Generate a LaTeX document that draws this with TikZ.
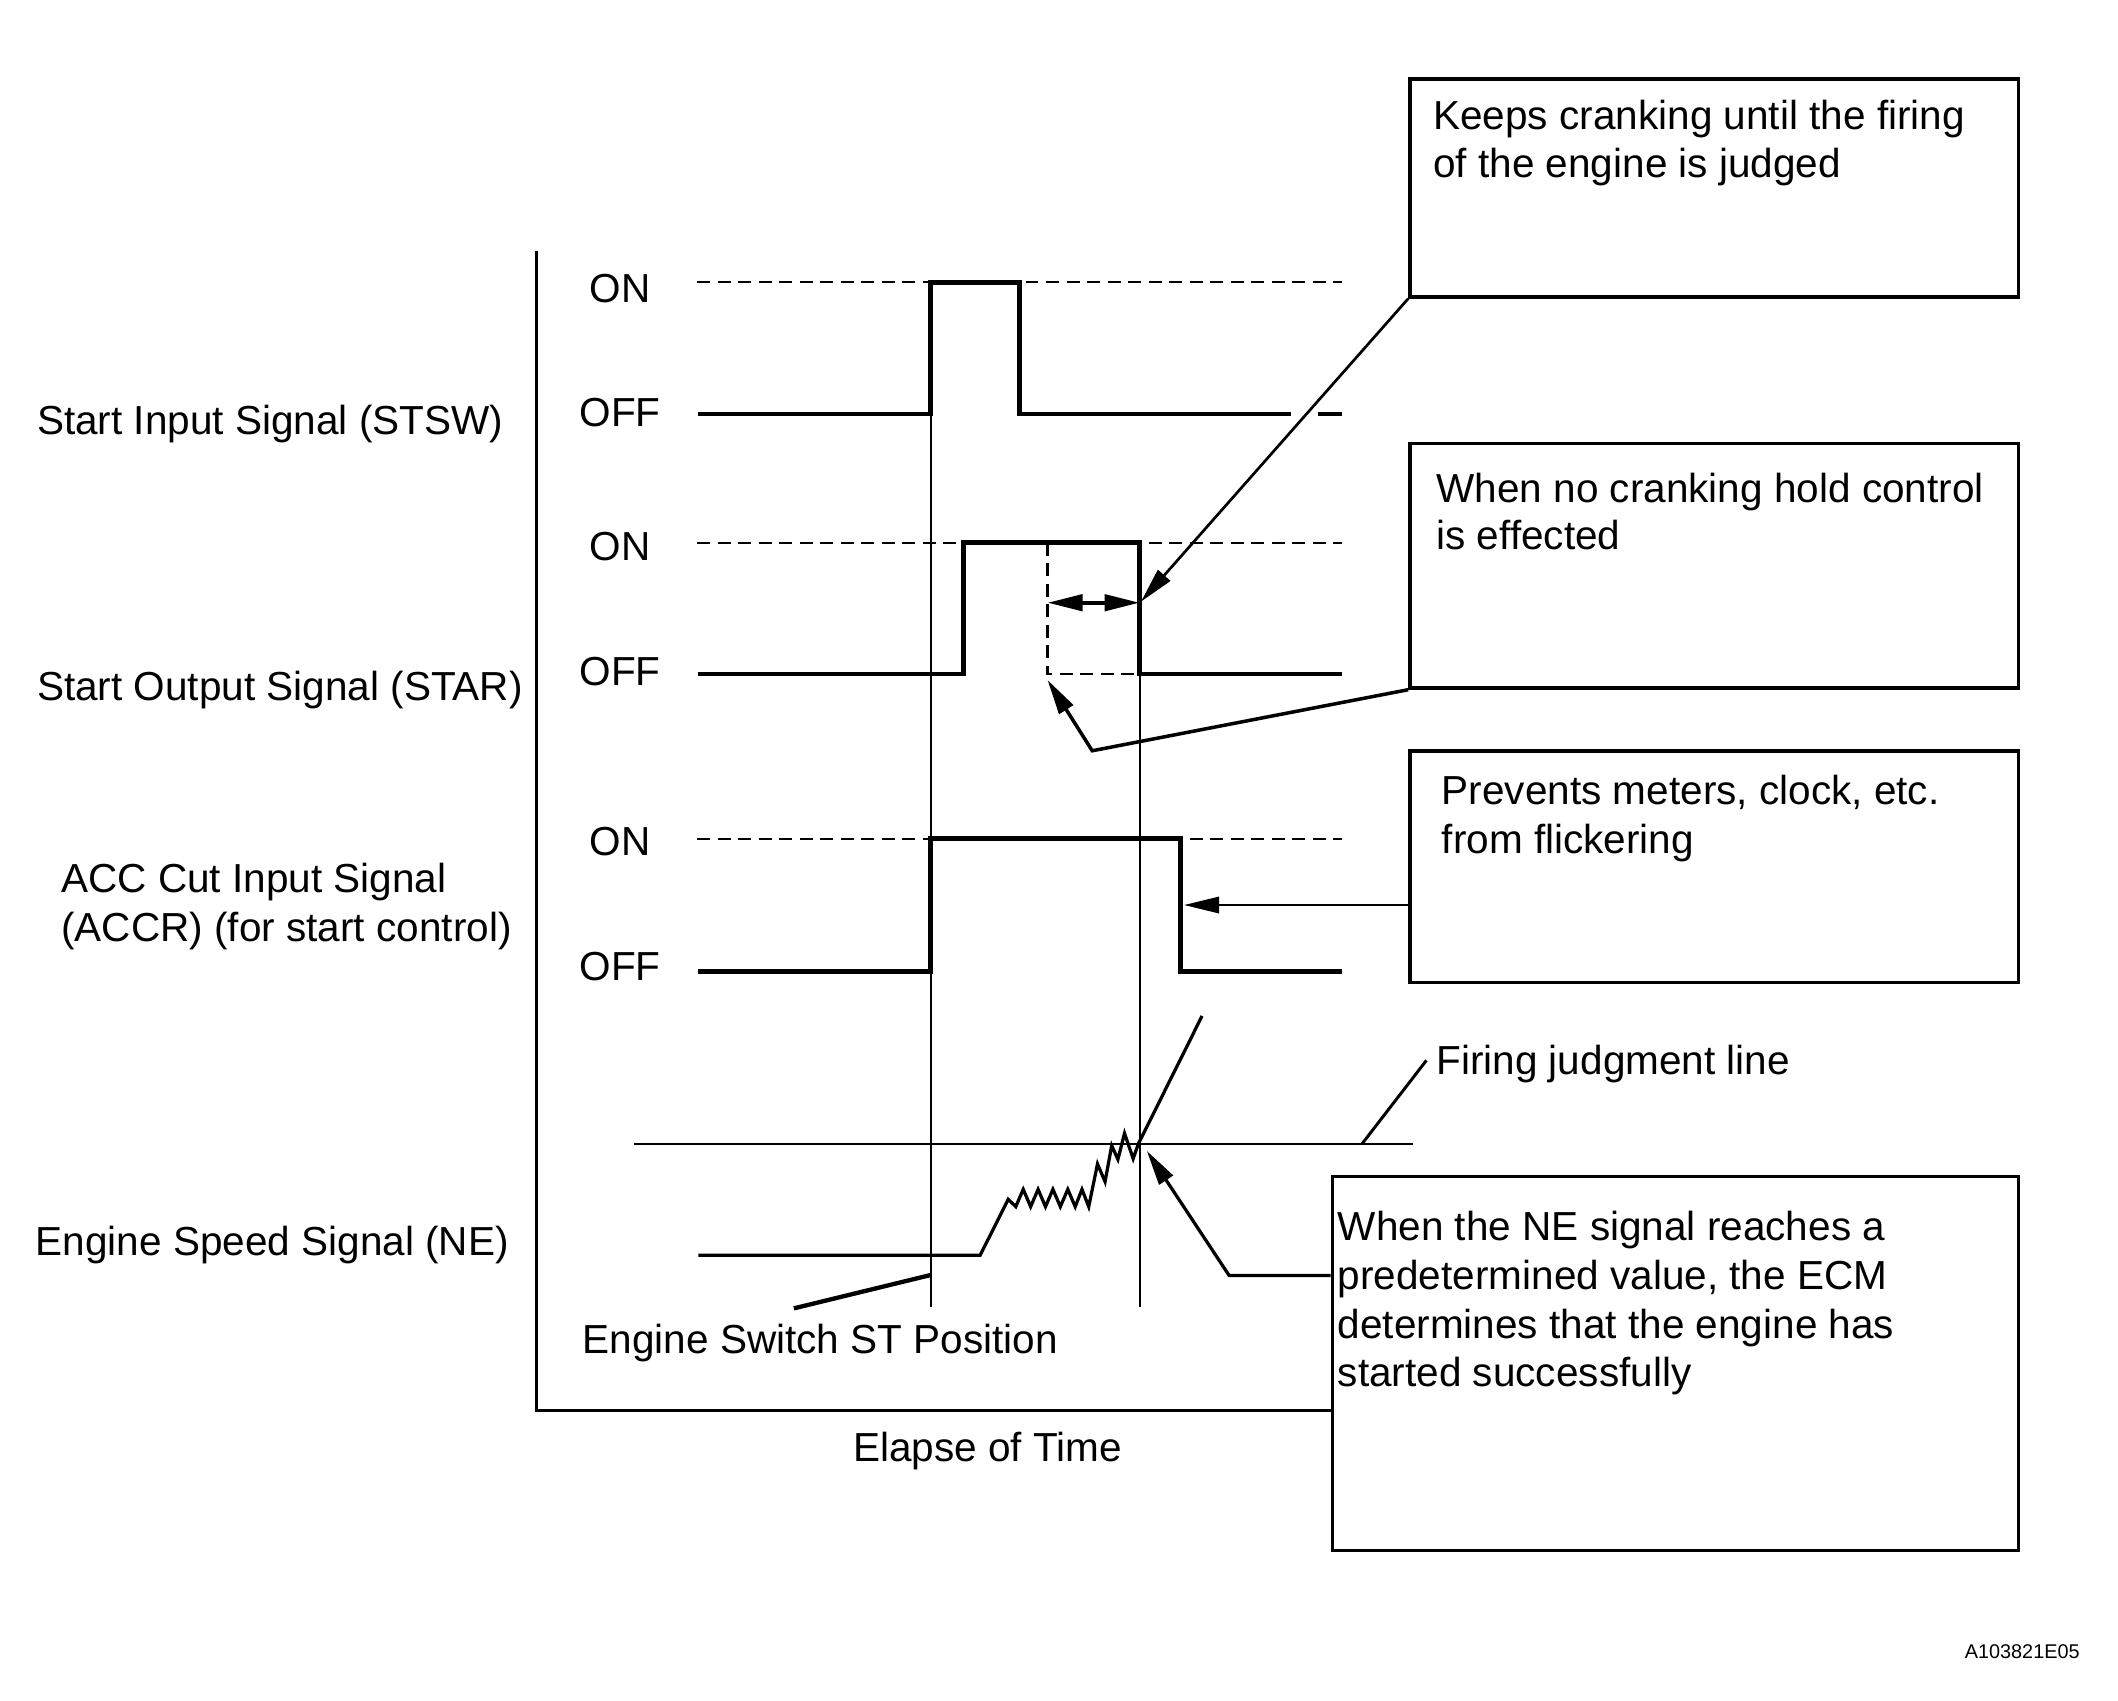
\documentclass[tikz,border=0pt]{standalone}
\usepackage{fontspec}
\setmainfont{Liberation Sans}
\usetikzlibrary{arrows.meta}
\begin{document}
\begin{tikzpicture}[x=0.5pt,y=-0.5pt,
  sig/.style={line width=1.8pt},
  thinln/.style={line width=0.75pt},
  dashln/.style={line width=0.8pt, dash pattern=on 4.8pt off 2.8pt},
  box/.style={draw, line width=1.3pt, rectangle, inner sep=0pt, anchor=north west, minimum width=225.25pt},
  lbl/.style={font=\fontsize{15pt}{18pt}\selectfont, inner sep=0pt, anchor=base west},
  onoff/.style={font=\fontsize{15pt}{18pt}\selectfont, inner sep=0pt, anchor=base},
  arr/.style={line width=1pt, -{Triangle[length=13pt,width=6pt]}},
]
\useasboundingbox (0,0) rectangle (1568,1259);

% axes
\coordinate (axt) at (397,186);
\coordinate (axc) at (397,1044);

% boxes
\node[box, minimum height=80.6pt] (b1) at (1042.5,57.3) {};
\node[box, minimum height=90.4pt] (b2) at (1042.5,327.2) {};
\node[box, minimum height=85.6pt] (b3) at (1042.5,554.8) {};
\node[box, minimum width=254pt, minimum height=138.5pt] (b4) at (985,869.6) {};

\draw[line width=1pt] (axt) -- (axc) -- (axc -| b4.west);

% dashed ON levels
\draw[dashln] (516,209) -- (993.6,209);
\draw[dashln] (516,401.7) -- (993.6,401.7);
\draw[dashln] (516,620.9) -- (993.6,620.9);
% dashed "no hold" outline
\draw[dashln] (775.5,401.7) -- (775.5,499) -- (843.7,499);

% thin vertical time lines
\draw[thinln] (689,306.5) -- (689,967.3);
\draw[thinln] (843.7,499) -- (843.7,967.3);

% STSW
\draw[sig] (517,306.5) -- (689,306.5) -- (689,209) -- (754.5,209) -- (754.5,306.5) -- (956,306.5);
\draw[sig] (976,306.5) -- (993.6,306.5);
% STAR
\draw[sig] (517,499) -- (713.3,499) -- (713.3,401.7) -- (843.7,401.7) -- (843.7,499) -- (993.6,499);
% ACCR
\draw[sig] (517,718.9) -- (689,718.9) -- (689,620.9) -- (874,620.9) -- (874,718.9) -- (993.6,718.9);

% double arrow
\coordinate (d1) at (775.5,446.2);
\coordinate (d2) at (843.7,446.2);
\draw[line width=1.5pt, {Triangle[length=13pt,width=6pt]}-{Triangle[length=13pt,width=6pt]}] (d1) -- (d2);

% firing judgment line
\coordinate (fl1) at (469,846.7);
\coordinate (fl2) at (1046,846.7);
\draw[line width=0.85pt] (fl1) -- (fl2);

% NE signal
\draw[line width=1.2pt, line join=miter] (517,929.3) -- (725.6,929.3) -- (746.4,887.9)
  -- (752,893.3) -- (757.5,880.5) -- (763,893.3) -- (768.5,880.5) -- (774,893.3)
  -- (779.5,880.5) -- (785,893.3) -- (790.5,880.5) -- (796,893.3) -- (801,880.5)
  -- (806,893.3) -- (812.5,861.7) -- (818.1,874.8) -- (823,848.1) -- (827.6,858.3)
  -- (832.5,839) -- (838.9,857.8) -- (842.7,846.9) -- (889.9,752.1);

% labels left
\node[lbl] (lstsw) at (27,321.7) {Start Input Signal (STSW)};
\node[lbl] (lstar) at (27,518.7) {Start Output Signal (STAR)};
\node[lbl] (lacc1) at (45,660.7) {ACC Cut Input Signal};
\node[lbl] (lacc2) at (45,696.7) {(ACCR) (for start control)};
\node[lbl] (lne) at (26,929.7) {Engine Speed Signal (NE)};

\node[onoff] (on1) at (459,223.7) {ON};
\node[onoff] (off1) at (459,315.7) {OFF};
\node[onoff] (on2) at (459,414.7) {ON};
\node[onoff] (off2) at (459,507.7) {OFF};
\node[onoff] (on3) at (459,633.7) {ON};
\node[onoff] (off3) at (459,725.7) {OFF};

% box texts
\node[lbl] (t1a) at (1060.7,95.7) {Keeps cranking until the firing};
\node[lbl] (t1b) at (1060.7,131.2) {of the engine is judged};
\node[lbl] (t2a) at (1063,371.7) {When no cranking hold control};
\node[lbl] (t2b) at (1063,406.7) {is effected};
\node[lbl] (t3a) at (1067,595.7) {Prevents meters, clock, etc.};
\node[lbl] (t3b) at (1067,631.7) {from flickering};
\node[lbl] (tfj) at (1063,795.7) {Firing judgment line};
\node[lbl] (t4a) at (990,918.7) {When the NE signal reaches a};
\node[lbl] (t4b) at (990,954.7) {predetermined value, the ECM};
\node[lbl] (t4c) at (990,990.7) {determines that the engine has};
\node[lbl] (t4d) at (990,1026.7) {started successfully};
\node[lbl] (tes) at (431,1001.7) {Engine Switch ST Position};
\node[onoff] (tel) at (731,1081.7) {Elapse of Time};
\node[font=\fontsize{7.35pt}{9pt}\selectfont, inner sep=0pt, anchor=base east] (wm) at (1540,1228) {A103821E05};

% leaders and arrows
\coordinate (a1) at (844.7,445.4);
\draw[arr] (b1.south west) -- (a1);
\coordinate (k2) at (808.6,555.8);
\coordinate (a2) at (775.5,503.4);
\draw[arr, line width=1.3pt] (b2.south west) -- (k2) -- (a2);
\coordinate (a3) at (876.5,670);
\draw[arr] (b3.west |- a3) -- (a3);
\coordinate (k4) at (909.9,944.2);
\coordinate (a4) at (849,852);
\draw[arr, line width=1.2pt] (b4.west |- k4) -- (k4) -- (a4);
\coordinate (fj1) at (1008.4,846.7);
\coordinate (fj2) at (1056,785);
\draw[line width=1.1pt] (fj1) -- (fj2);
\coordinate (es1) at (587.7,968.6);
\coordinate (es2) at (689,943.9);
\draw[line width=1.6pt] (es1) -- (es2);
\end{tikzpicture}
\end{document}
